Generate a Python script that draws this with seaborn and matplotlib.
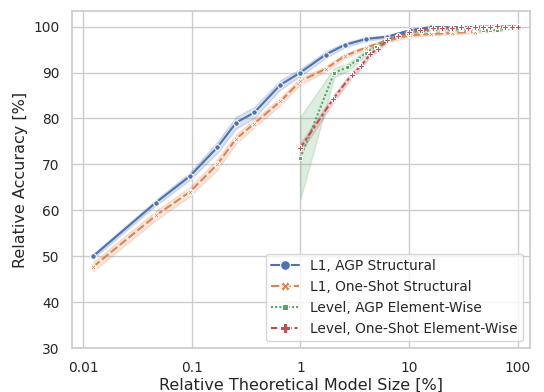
import numpy as np
import pandas as pd
import matplotlib
matplotlib.use("Agg")
import matplotlib.pyplot as plt
from matplotlib.ticker import FuncFormatter, FixedLocator, NullLocator
import seaborn as sns

# Series labels
labels = [
    "L1, AGP Structural",
    "L1, One-Shot Structural",
    "Level, AGP Element-Wise",
    "Level, One-Shot Element-Wise",
]

# Structural pruning (shared model sizes)
x_struct = [0.0124, 0.047, 0.096, 0.172, 0.257, 0.377, 0.653, 1.0, 1.71, 2.55,
            4.0, 6.3, 10.2, 15.9, 25, 40, 63, 100]
l1_agp = [50.0, 61.7, 67.4, 73.7, 79.1, 81.3, 87.3, 90.0, 93.9, 96.0,
          97.3, 97.8, 99.2, 99.9, 99.8, 99.9, 100.0, 100.0]
l1_agp_ci = [0.5, 0.6, 0.8, 1.2, 1.3, 1.2, 1.0, 0.8, 0.7, 0.5,
             0.4, 0.3, 0.3, 0.2, 0.2, 0.2, 0.2, 0.1]
l1_oneshot = [47.7, 58.9, 64.0, 70.0, 75.6, 78.9, 83.7, 88.1, 90.8, 93.6,
              95.4, 97.0, 98.1, 98.4, 98.6, 98.9, 99.2, 100.0]
l1_oneshot_ci = [1.0, 1.0, 1.0, 1.2, 1.0, 0.9, 0.8, 0.7, 0.6, 0.5,
                 0.4, 0.4, 0.4, 0.3, 0.3, 0.3, 0.3, 0.1]

# Element-wise pruning
x_level_agp = [1.0, 2.05, 2.7, 3.3, 4.0, 4.96, 6.2, 7.9, 9.8, 12.9, 16.5,
               20, 25, 30, 35, 40, 48, 55, 64, 76, 88, 100]
level_agp = [71.4, 90.0, 91.1, 92.7, 94.3, 95.6, 97.2, 98.0, 98.7, 99.0, 99.2,
             99.3, 99.3, 99.4, 99.3, 99.4, 99.3, 99.2, 99.3, 99.5, 99.8, 100.0]
level_agp_ci = [9.0, 1.0, 0.8, 0.7, 0.6, 0.5, 0.4, 0.4, 0.3, 0.3, 0.3,
                0.3, 0.3, 0.3, 0.3, 0.3, 0.3, 0.3, 0.3, 0.3, 0.2, 0.1]

x_level_oneshot = [1.0, 2.0, 2.96, 3.6, 4.4, 5.2, 6.3, 7.9, 10.0, 12.6, 16.5,
                   20, 25, 30, 35, 40, 48, 55, 64, 76, 88, 100]
level_oneshot = [73.6, 84.2, 89.5, 91.4, 94.0, 95.2, 97.0, 98.0, 98.8, 99.2, 99.6,
                 99.8, 99.8, 99.9, 99.8, 99.9, 100.0, 99.9, 100.2, 99.9, 100.0, 100.0]
level_oneshot_ci = [1.0, 0.8, 0.6, 0.6, 0.5, 0.5, 0.4, 0.3, 0.3, 0.3, 0.2,
                    0.2, 0.2, 0.2, 0.2, 0.2, 0.2, 0.2, 0.2, 0.2, 0.2, 0.1]

x_ticks = [0.01, 0.1, 1, 10, 100]
y_ticks = [30, 40, 50, 60, 70, 80, 90, 100]

# Long-form table: each point gets three repeats (mean - ci, mean, mean + ci)
# so seaborn's "sd" band reproduces the shaded interval
series = [
    (labels[0], x_struct, l1_agp, l1_agp_ci),
    (labels[1], x_struct, l1_oneshot, l1_oneshot_ci),
    (labels[2], x_level_agp, level_agp, level_agp_ci),
    (labels[3], x_level_oneshot, level_oneshot, level_oneshot_ci),
]
rows = []
for name, xs, ys, cis in series:
    for x, y, c in zip(xs, ys, cis):
        for v in (y - c, y, y + c):
            rows.append({"size": x, "acc": v, "Method": name})
df = pd.DataFrame(rows)

sns.set_theme(style="whitegrid", context="notebook", font_scale=0.9)
plt.rcParams.update({"axes.labelsize": 11.5})

fig, ax = plt.subplots(figsize=(5.44, 3.92), dpi=100)
sns.lineplot(data=df, x="size", y="acc", hue="Method", style="Method",
             hue_order=labels, style_order=labels, markers=True,
             errorbar="sd", markersize=4, ax=ax)

ax.set_xscale("log")
ax.set_xlim(0.0079, 129)
ax.set_ylim(30, 103.4)
ax.xaxis.set_major_locator(FixedLocator(x_ticks))
ax.xaxis.set_minor_locator(NullLocator())
ax.xaxis.set_major_formatter(FuncFormatter(lambda v, _: f"{v:g}"))
ax.set_yticks(y_ticks)
ax.tick_params(axis="both", pad=3)
ax.set_xlabel("Relative Theoretical Model Size [%]", labelpad=2)
ax.set_ylabel("Relative Accuracy [%]", labelpad=4)

handles, names = ax.get_legend_handles_labels()
for h in handles:
    h.set_markersize(7)
ax.legend(handles, names, loc="lower right")

fig.subplots_adjust(left=0.132, right=0.974, top=0.972, bottom=0.112)
fig.savefig("out.png", dpi=100)
